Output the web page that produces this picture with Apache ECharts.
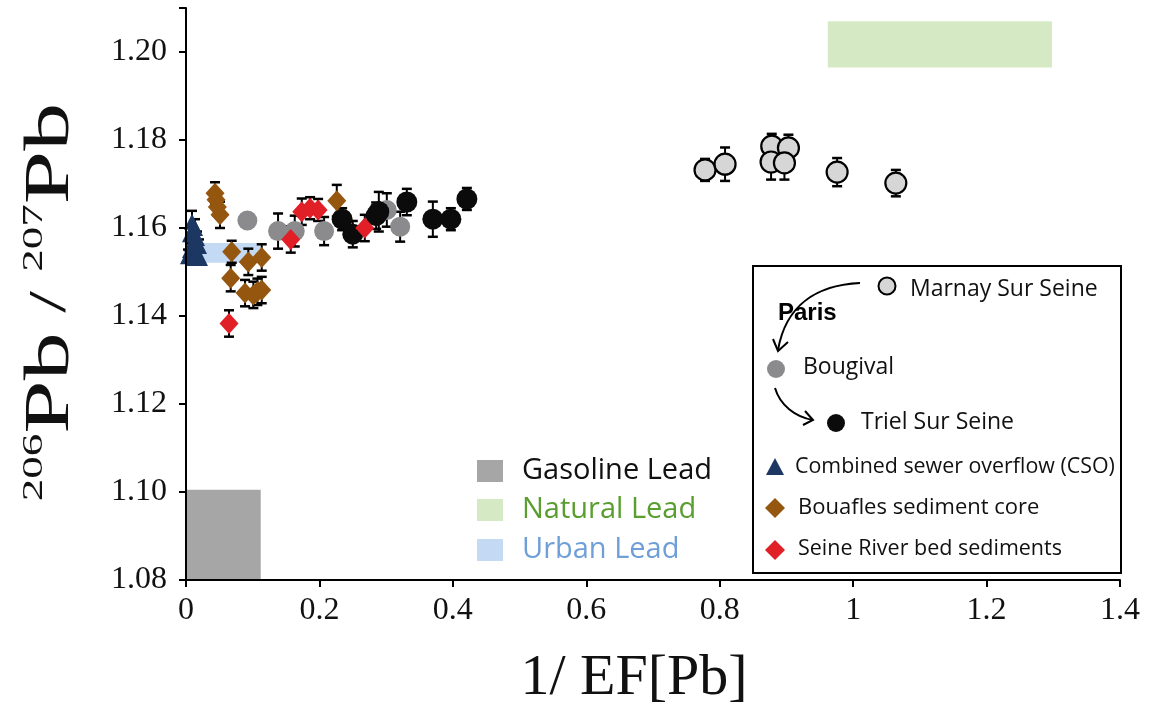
<!DOCTYPE html>
<html><head><meta charset="utf-8">
<script src="https://cdn.jsdelivr.net/npm/echarts@6.0.0/dist/echarts.min.js"></script>
<style>html,body{margin:0;padding:0;background:#fff}#c{width:1152px;height:718px}</style>
</head><body><div id="c"></div>
<script>
// ---- data ----
const xTickValues = [0, 0.2, 0.4, 0.6, 0.8, 1, 1.2, 1.4];
const yTickValues = [1.08, 1.10, 1.12, 1.14, 1.16, 1.18, 1.20];

const marnayX   = [0.778, 0.808, 0.878, 0.903, 0.877, 0.897, 0.976, 1.064];
const marnayY   = [1.1732, 1.1745, 1.1786, 1.1782, 1.1750, 1.1748, 1.1727, 1.1702];
const marnayErr = [0.0025, 0.0038, 0.0028, 0.0030, 0.0040, 0.0038, 0.0032, 0.0030];

const bougivalX   = [0.092, 0.138, 0.163, 0.207, 0.301, 0.321];
const bougivalY   = [1.1617, 1.1593, 1.1593, 1.1593, 1.1641, 1.1603];
const bougivalErr = [0.0015, 0.0040, 0.0035, 0.0032, 0.0038, 0.0034];

const trielX   = [0.234, 0.250, 0.285, 0.289, 0.331, 0.370, 0.397, 0.421];
const trielY   = [1.1620, 1.1586, 1.1628, 1.1637, 1.1659, 1.1620, 1.1620, 1.1666];
const trielErr = [0.0025, 0.0030, 0.0030, 0.0045, 0.0030, 0.0040, 0.0025, 0.0025];

const csoX   = [0.009, 0.0135, 0.006, 0.0165, 0.009, 0.0195, 0.006, 0.015, 0.0105, 0.021, 0.003];
const csoY   = [1.1614, 1.1600, 1.1586, 1.1577, 1.1564, 1.1559, 1.1550, 1.1541, 1.1532, 1.1532, 1.1536];
const csoErr = [0.0025, 0.0020, 0.0015, 0.0015, 0.0015, 0.0015, 0.0015, 0.0015, 0.0015, 0.0015, 0.0015];

const bouaflesX   = [0.0435, 0.045, 0.047, 0.051, 0.0685, 0.0934, 0.1135, 0.067, 0.0885, 0.101, 0.107, 0.1135, 0.226];
const bouaflesY   = [1.1679, 1.1664, 1.1648, 1.1630, 1.1546, 1.1523, 1.1533, 1.1486, 1.1452, 1.1448, 1.1455, 1.1459, 1.1662];
const bouaflesErr = [0.0025, 0.0020, 0.0020, 0.0030, 0.0025, 0.0030, 0.0030, 0.0030, 0.0030, 0.0030, 0.0030, 0.0030, 0.0036];

const seineX   = [0.0645, 0.157, 0.1735, 0.186, 0.198, 0.268];
const seineY   = [1.1383, 1.1574, 1.1637, 1.1645, 1.1641, 1.1600];
const seineErr = [0.0030, 0.0030, 0.0030, 0.0025, 0.0025, 0.0030];

// Lead source ranges: [x0, x1], [y0, y1]
const rangeNames = ['Gasoline Lead', 'Natural Lead', 'Urban Lead'];
const rangeX0 = [0, 0.962, 0.0015];
const rangeX1 = [0.112, 1.298, 0.111];
const rangeY0 = [1.08, 1.1965, 1.1521];
const rangeY1 = [1.1005, 1.207, 1.1566];

const seriesNames = ['Marnay Sur Seine', 'Bougival', 'Triel Sur Seine',
  'Combined sewer overflow (CSO)', 'Bouafles sediment core', 'Seine River bed sediments'];

// ---- styles ----
const rangeFill = ['#a6a6a6', '#d5eac4', '#c4d9f3'];
const rangeText = ['#111111', '#5a9e2f', '#6f9fd8'];
const C = { marnay:'#d6d6d6', boug:'#8b8b8d', triel:'#0b0b0b', cso:'#1d3763', bouaf:'#95560f', seine:'#e01f26' };
const SANS = '"Open Sans", "Noto Sans", sans-serif';
const SERIF = '"Liberation Serif", "DejaVu Serif", serif';

function pts(xs, ys, es) { return xs.map((x, i) => [x, ys[i], es[i]]); }

function errSeries(name, data) {
  return {
    type: 'custom', name: name + ' error', data: data, z: 3, silent: true,
    encode: { x: 0, y: 1 },
    renderItem: function (params, api) {
      const x = api.value(0), y = api.value(1), e = api.value(2);
      const t = api.coord([x, y + e]), b = api.coord([x, y - e]);
      const w = 5, st = { stroke: '#000', lineWidth: 2 };
      return { type: 'group', children: [
        { type: 'line', shape: { x1: t[0], y1: t[1], x2: b[0], y2: b[1] }, style: st },
        { type: 'line', shape: { x1: t[0] - w, y1: t[1], x2: t[0] + w, y2: t[1] }, style: { stroke: '#000', lineWidth: 2.5 } },
        { type: 'line', shape: { x1: b[0] - w, y1: b[1], x2: b[0] + w, y2: b[1] }, style: { stroke: '#000', lineWidth: 2.5 } }
      ]};
    }
  };
}
function scat(name, data, symbol, size, color, border) {
  return {
    type: 'scatter', name: name, data: data, z: 5, symbol: symbol, symbolSize: size,
    encode: { x: 0, y: 1 },
    itemStyle: { color: color, opacity: 1, borderColor: border ? '#000' : color, borderWidth: border ? 2.2 : 0 }
  };
}

const rangeData = rangeNames.map((n, i) => [rangeX0[i], rangeY0[i], rangeX1[i], rangeY1[i]]);

const groups = [
  [seriesNames[0], pts(marnayX, marnayY, marnayErr), 'circle', 21, C.marnay, true],
  [seriesNames[1], pts(bougivalX, bougivalY, bougivalErr), 'circle', 20, C.boug, false],
  [seriesNames[2], pts(trielX, trielY, trielErr), 'circle', 21, C.triel, false],
  [seriesNames[3], pts(csoX, csoY, csoErr), 'triangle', [16, 16], C.cso, false],
  [seriesNames[4], pts(bouaflesX, bouaflesY, bouaflesErr), 'diamond', [19, 21], C.bouaf, false],
  [seriesNames[5], pts(seineX, seineY, seineErr), 'diamond', [19, 21], C.seine, false]
];

const series = [{
  type: 'custom', name: 'ranges', data: rangeData, z: 1, silent: true,
  encode: { x: [0, 2], y: [1, 3] },
  renderItem: function (params, api) {
    const a = api.coord([api.value(0), api.value(3)]);
    const b = api.coord([api.value(2), api.value(1)]);
    return { type: 'rect', shape: { x: a[0], y: a[1], width: b[0] - a[0], height: b[1] - a[1] },
             style: { fill: rangeFill[params.dataIndex] } };
  }
}];
groups.forEach(g => series.push(errSeries(g[0], g[1])));
groups.forEach(g => series.push(scat(g[0], g[1], g[2], g[3], g[4], g[5])));

// ---- graphic legends ----
const graphic = [];
// y-axis title (rotated, real text)
graphic.push({
  type: 'text', x: 51, y: 302, rotation: Math.PI / 2, scaleX: 1.5, z: 20,
  style: {
    text: '{s|206}{p|Pb}{m| / }{s|207}{p|Pb}',
    align: 'center', verticalAlign: 'middle', fill: '#111',
    rich: {
      s: { fontFamily: SERIF, fontSize: 30, verticalAlign: 'top', fill: '#111' },
      p: { fontFamily: SERIF, fontSize: 64, fill: '#111' },
      m: { fontFamily: SERIF, fontSize: 52, fill: '#111' }
    }
  }
});
// range legend
const rangeLegY = [471, 510, 550];
rangeNames.forEach((n, i) => {
  graphic.push({ type: 'rect', shape: { x: 477, y: rangeLegY[i] - 11, width: 26, height: 22 }, style: { fill: rangeFill[i] }, z: 20 });
  graphic.push({ type: 'text', x: 522, y: rangeLegY[i], z: 20,
    style: { text: n, fontFamily: SANS, fontSize: 29, fill: rangeText[i], verticalAlign: 'middle' } });
});
// series legend box
const stroke2 = { stroke: '#000', lineWidth: 2, fill: null };
graphic.push({ type: 'rect', shape: { x: 753, y: 266, width: 368, height: 307 }, style: { fill: '#fff', stroke: '#000', lineWidth: 2 }, z: 18 });
const lt = (txt, x, y, fs) => ({ type: 'text', x: x, y: y, z: 21, style: { text: txt, fontFamily: SANS, fontSize: fs || 22, fill: '#111', verticalAlign: 'middle' } });
graphic.push({ type: 'circle', shape: { cx: 887, cy: 286, r: 8.5 }, style: { fill: C.marnay, stroke: '#000', lineWidth: 2 }, z: 21 });
graphic.push(lt(seriesNames[0], 910, 289, 23));
graphic.push({ type: 'bezierCurve', z: 21, shape: { x1: 860, y1: 283, cpx1: 818, cpy1: 285, cpx2: 786, cpy2: 304, x2: 778, y2: 350 }, style: stroke2 });
graphic.push({ type: 'polyline', z: 21, shape: { points: [[773, 339], [778, 351], [788, 342]] }, style: stroke2 });
graphic.push({ type: 'text', x: 778, y: 313, z: 21, style: { text: 'Paris', fontFamily: '"Liberation Sans Narrow", "Liberation Sans", sans-serif', fontWeight: 'bold', fontSize: 24, fill: '#000', verticalAlign: 'middle' } });
graphic.push({ type: 'circle', shape: { cx: 776, cy: 369, r: 9 }, style: { fill: C.boug }, z: 21 });
graphic.push(lt(seriesNames[1], 803, 367, 23));
graphic.push({ type: 'bezierCurve', z: 21, shape: { x1: 775, y1: 388, cpx1: 780, cpy1: 405, cpx2: 795, cpy2: 417, x2: 813, y2: 420 }, style: stroke2 });
graphic.push({ type: 'polyline', z: 21, shape: { points: [[805, 411], [813, 420], [803, 425]] }, style: stroke2 });
graphic.push({ type: 'circle', shape: { cx: 836, cy: 423, r: 9 }, style: { fill: C.triel }, z: 21 });
graphic.push(lt(seriesNames[2], 861, 422, 23));
graphic.push({ type: 'polygon', shape: { points: [[775, 458], [784, 475], [766, 475]] }, style: { fill: C.cso }, z: 21 });
graphic.push(lt(seriesNames[3], 795, 467, 21.4));
graphic.push({ type: 'polygon', shape: { points: [[775, 498], [785, 508], [775, 518], [765, 508]] }, style: { fill: C.bouaf }, z: 21 });
graphic.push(lt(seriesNames[4], 798, 508, 22));
graphic.push({ type: 'polygon', shape: { points: [[775, 540], [785, 550], [775, 560], [765, 550]] }, style: { fill: C.seine }, z: 21 });
graphic.push(lt(seriesNames[5], 798, 549, 21.5));

const chart = echarts.init(document.getElementById('c'), null, { renderer: 'canvas' });
chart.setOption({
  backgroundColor: '#ffffff',
  animation: false,
  grid: { left: 186, right: 32, top: 8, bottom: 138, containLabel: false },
  xAxis: {
    type: 'value', min: xTickValues[0], max: xTickValues[xTickValues.length - 1], interval: 0.2, z: 10,
    name: '1/ EF[Pb]', nameLocation: 'middle', nameGap: 70,
    nameTextStyle: { fontFamily: SERIF, fontSize: 58, color: '#111', padding: [0, 38, 0, 0] },
    axisLine: { lineStyle: { color: '#000', width: 2 } },
    axisTick: { show: true, length: 7, lineStyle: { color: '#000', width: 2 } },
    axisLabel: { fontFamily: SERIF, fontSize: 32, color: '#111', margin: 15,
      formatter: v => String(parseFloat(v.toFixed(1))) },
    splitLine: { show: false }
  },
  yAxis: {
    type: 'value', min: yTickValues[0], max: 1.21, interval: 0.02, z: 10,
    axisLine: { lineStyle: { color: '#000', width: 2 } },
    axisTick: { show: true, length: 7, lineStyle: { color: '#000', width: 2 } },
    axisLabel: { fontFamily: SERIF, fontSize: 32, color: '#111', margin: 19,
      formatter: v => (Math.abs(v - 1.21) < 1e-6 ? '' : v.toFixed(2)) },
    splitLine: { show: false }
  },
  series: series,
  graphic: graphic
});
</script>
</body></html>
